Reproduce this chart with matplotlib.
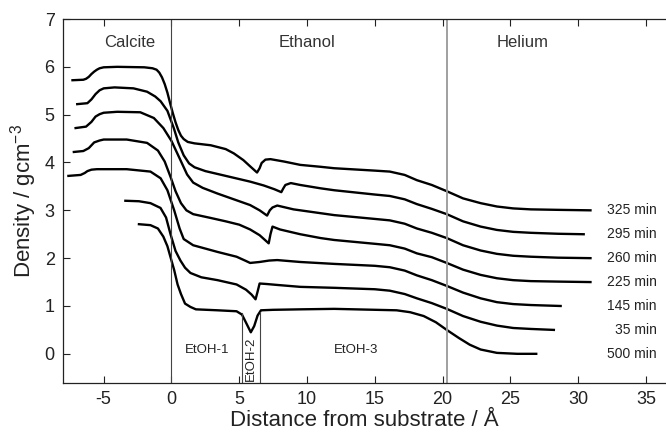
import numpy as np
import matplotlib
matplotlib.use("Agg")
import matplotlib.pyplot as plt

plt.rcParams['font.family'] = ['Liberation Sans', 'DejaVu Sans']
plt.rcParams['mathtext.default'] = 'regular'
plt.rcParams['axes.unicode_minus'] = False

# density profiles (x in Angstrom, density in g/cm3)
x_325 = [-7.3, -6.5, -6.3, -6.1, -5.9, -5.7, -5.5, -5.3, -5.0, -4.0, -2.0, -1.4, -1.1, -0.9, -0.7, -0.5,
         -0.3, -0.1, 0.1, 0.3, 0.5, 0.7, 0.9, 1.2, 1.7, 2.9, 4.0, 4.6, 5.3, 5.8, 6.31, 6.5, 6.65, 6.93, 7.3,
         8.3, 9.5, 11, 12, 15, 16.1, 17.2, 18.1, 19.2, 20.3, 21.5, 22.8, 24.0, 25.2, 26.5, 28.5, 30.9]
y_325 = [5.72, 5.73, 5.75, 5.79, 5.85, 5.90, 5.94, 5.97, 5.99, 6.00, 5.99, 5.97, 5.94, 5.88, 5.78, 5.64,
         5.46, 5.24, 5.03, 4.84, 4.68, 4.56, 4.49, 4.43, 4.40, 4.36, 4.28, 4.19, 4.05, 3.92, 3.79, 3.88,
         3.99, 4.06, 4.07, 4.02, 3.95, 3.91, 3.88, 3.83, 3.81, 3.74, 3.63, 3.53, 3.40, 3.25, 3.15, 3.08,
         3.04, 3.02, 3.01, 3.00]

x_295 = [-6.95, -6.2, -5.9, -5.6, -5.3, -5.0, -4.2, -2.8, -1.8, -1.2, -0.8, -0.3, 0.17, 0.5, 0.9, 1.3, 1.7,
         2.5, 3.4, 4.6, 5.8, 6.8, 7.6, 8.1, 8.25, 8.4, 8.8, 9.5, 11, 12, 15, 16.1, 17.2, 18.1, 19.2, 20.3,
         21.5, 22.8, 24.0, 25.2, 26.5, 28.5, 30.4]
y_295 = [5.22, 5.24, 5.32, 5.43, 5.51, 5.55, 5.57, 5.55, 5.48, 5.38, 5.28, 5.08, 4.72, 4.42, 4.15, 3.98,
         3.90, 3.82, 3.76, 3.68, 3.60, 3.52, 3.44, 3.38, 3.46, 3.53, 3.57, 3.53, 3.46, 3.42, 3.33, 3.30,
         3.23, 3.13, 3.03, 2.92, 2.77, 2.66, 2.59, 2.55, 2.53, 2.51, 2.50]

x_260 = [-7.07, -6.3, -5.9, -5.6, -5.3, -5.0, -4.0, -2.3, -1.3, -0.6, 0.0, 0.66, 1.15, 1.6, 2.3, 3.4, 4.5,
         5.8, 6.5, 7.05, 7.25, 7.45, 7.8, 9.0, 11, 12, 15, 16.1, 17.2, 18.1, 19.2, 20.3, 21.5, 22.8, 24.0,
         25.2, 26.5, 28.5, 30.9]
y_260 = [4.72, 4.75, 4.85, 4.96, 5.01, 5.04, 5.06, 5.05, 4.93, 4.72, 4.45, 4.05, 3.75, 3.58, 3.47, 3.35,
         3.24, 3.11, 3.00, 2.89, 3.00, 3.06, 3.10, 3.02, 2.94, 2.90, 2.82, 2.79, 2.72, 2.62, 2.53, 2.42,
         2.27, 2.16, 2.09, 2.05, 2.03, 2.01, 2.00]

x_225 = [-7.2, -6.5, -6.1, -5.7, -5.3, -5.0, -3.3, -1.8, -1.0, -0.5, -0.07, 0.3, 0.7, 1.1, 1.6, 2.9, 4.0,
         5.0, 5.8, 6.5, 7.17, 7.3, 7.45, 8.0, 9.5, 11, 12, 15, 16.1, 17.2, 18.1, 19.2, 20.3, 21.5, 22.8,
         24.0, 25.2, 26.5, 28.5, 30.9]
y_225 = [4.22, 4.24, 4.30, 4.42, 4.46, 4.48, 4.48, 4.41, 4.25, 4.02, 3.70, 3.40, 3.15, 3.00, 2.92, 2.84,
         2.77, 2.70, 2.60, 2.48, 2.31, 2.50, 2.66, 2.60, 2.50, 2.42, 2.38, 2.30, 2.27, 2.20, 2.10, 2.02,
         1.90, 1.76, 1.65, 1.58, 1.54, 1.52, 1.51, 1.50]

x_145 = [-7.6, -6.7, -6.4, -6.2, -5.9, -5.5, -3.3, -1.55, -0.8, -0.3, 0.2, 0.6, 0.9, 1.6, 3.4, 4.8, 5.5,
         5.8, 6.5, 7.2, 7.8, 9.5, 12, 15, 16.1, 17.2, 18.1, 19.2, 20.3, 21.5, 22.8, 24.0, 25.2, 26.5, 28.7]
y_145 = [3.72, 3.74, 3.78, 3.82, 3.85, 3.86, 3.86, 3.81, 3.67, 3.42, 3.00, 2.62, 2.40, 2.27, 2.13, 2.03,
         1.94, 1.90, 1.92, 1.95, 1.96, 1.92, 1.88, 1.84, 1.81, 1.74, 1.64, 1.54, 1.42, 1.28, 1.16, 1.08,
         1.04, 1.02, 1.00]

x_35 = [-3.4, -2.4, -1.55, -0.81, -0.4, -0.07, 0.3, 0.66, 1.0, 1.4, 2.2, 3.4, 4.8, 5.5, 5.9, 6.2, 6.35, 6.5,
        7.0, 7.8, 9.5, 12, 15, 16.1, 17.2, 18.1, 19.2, 20.3, 21.5, 22.8, 24.0, 25.2, 26.5, 28.2]
y_35 = [3.20, 3.19, 3.15, 3.05, 2.85, 2.50, 2.15, 1.95, 1.80, 1.69, 1.60, 1.54, 1.45, 1.34, 1.24, 1.14, 1.30,
        1.47, 1.46, 1.44, 1.40, 1.38, 1.35, 1.32, 1.25, 1.16, 1.06, 0.94, 0.79, 0.67, 0.59, 0.54, 0.52, 0.50]

x_500 = [-2.4, -1.55, -1.0, -0.6, -0.3, 0.0, 0.2, 0.45, 0.7, 1.0, 1.4, 1.8, 3.4, 4.8, 5.2, 5.5, 5.85, 6.1,
         6.35, 6.6, 7.5, 9.5, 12, 16.6, 17.6, 18.6, 19.5, 20.3, 21.2, 22.0, 22.8, 24.0, 25.5, 26.9]
y_500 = [2.71, 2.69, 2.62, 2.45, 2.25, 1.95, 1.75, 1.45, 1.25, 1.05, 0.98, 0.93, 0.91, 0.89, 0.82, 0.65, 0.45,
         0.58, 0.80, 0.91, 0.92, 0.93, 0.94, 0.91, 0.87, 0.79, 0.66, 0.50, 0.33, 0.19, 0.09, 0.02, 0.00, 0.00]

profiles = [(x_325, y_325), (x_295, y_295), (x_260, y_260), (x_225, y_225),
            (x_145, y_145), (x_35, y_35), (x_500, y_500)]
times = ["325 min", "295 min", "260 min", "225 min", "145 min", "35 min", "500 min"]

fig = plt.figure(figsize=(6.66, 4.33), dpi=100)
ax = fig.add_axes([63/666, 50/433, 603/666, 364/433])

for (xs, ys), t in zip(profiles, times):
    ax.plot(xs, ys, color='black', lw=1.7, solid_joinstyle='round')
    ax.text(35.8, ys[-1], t, ha='right', va='center', fontsize=10, color='#222222')

# region boundaries
ax.axvline(0, color='#444444', lw=0.8)
ax.axvline(20.3, color='#999999', lw=1.3)
ax.plot([5.2, 5.2], [-0.7, 0.85], color='#444444', lw=0.8)
ax.plot([6.5, 6.5], [-0.7, 0.88], color='#444444', lw=0.8)

ax.text(-3.1, 6.5, "Calcite", ha='center', va='center', fontsize=12, color='#333333')
ax.text(10.0, 6.5, "Ethanol", ha='center', va='center', fontsize=12, color='#333333')
ax.text(25.9, 6.5, "Helium", ha='center', va='center', fontsize=12, color='#333333')
ax.text(2.6, 0.08, "EtOH-1", ha='center', va='center', fontsize=9.5, color='#222222')
ax.text(5.87, -0.1, "EtOH-2", ha='center', va='center', fontsize=9.5, color='#222222', rotation=90)
ax.text(13.6, 0.08, "EtOH-3", ha='center', va='center', fontsize=9.5, color='#222222')

ax.set_xlim(-8, 36.47)
ax.set_ylim(-0.61, 7)
ax.set_xticks([-5, 0, 5, 10, 15, 20, 25, 30, 35])
ax.set_yticks([0, 1, 2, 3, 4, 5, 6, 7])
ax.tick_params(direction='in', top=True, right=False, length=5, width=0.8,
               labelsize=13, colors='#222222', pad=6)
ax.spines['right'].set_visible(False)
for s in ['left', 'bottom', 'top']:
    ax.spines[s].set_linewidth(0.9)
    ax.spines[s].set_color('#222222')

ax.set_xlabel("Distance from substrate / Å", fontsize=16, color='#222222', labelpad=1)
ax.set_ylabel("Density / gcm$^{-3}$", fontsize=16, color='#222222', labelpad=4)

fig.savefig("out.png", dpi=100)
